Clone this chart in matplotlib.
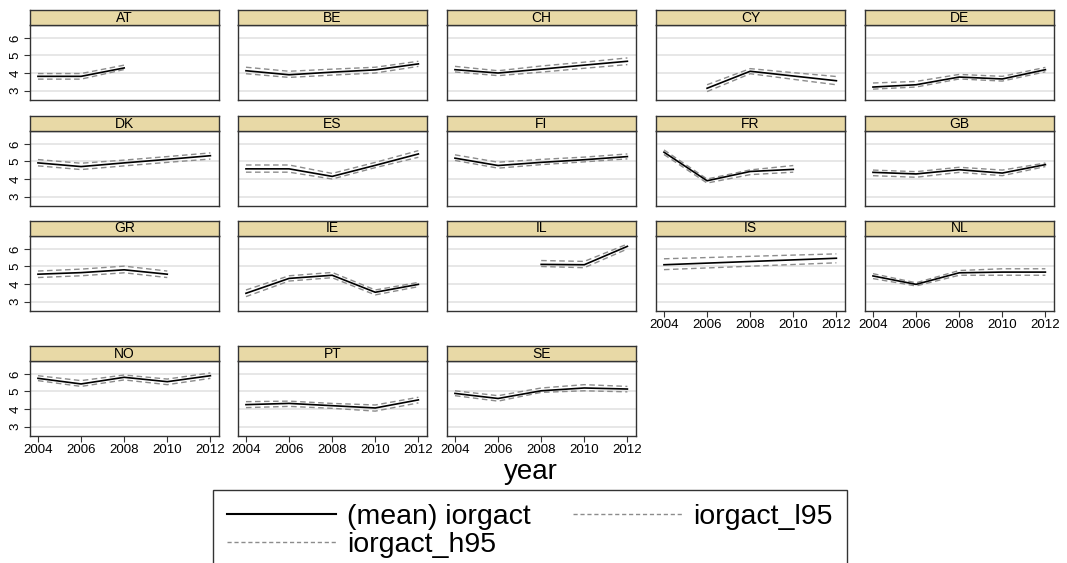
import numpy as np
import matplotlib
matplotlib.use("Agg")
import matplotlib.pyplot as plt
from matplotlib.lines import Line2D

plt.rcParams['font.family'] = ['Liberation Sans', 'DejaVu Sans']

countries = ["AT", "BE", "CH", "CY", "DE",
             "DK", "ES", "FI", "FR", "GB",
             "GR", "IE", "IL", "IS", "NL",
             "NO", "PT", "SE"]

all_years = [2004, 2006, 2008, 2010, 2012]

years = {
    "AT": [2004, 2006, 2008],
    "CY": [2006, 2008, 2010, 2012],
    "FR": [2004, 2006, 2008, 2010],
    "GR": [2004, 2006, 2008, 2010],
    "IL": [2008, 2010, 2012],
    "IS": [2004, 2012],
}

mean = {
    "AT": [3.81, 3.81, 4.29],
    "BE": [4.13, 3.90, 4.05, 4.18, 4.52],
    "CH": [4.19, 4.00, 4.22, 4.45, 4.67],
    "CY": [3.13, 4.10, 3.83, 3.56],
    "DE": [3.20, 3.33, 3.77, 3.66, 4.19],
    "DK": [4.92, 4.71, 4.92, 5.12, 5.33],
    "ES": [4.58, 4.58, 4.15, 4.78, 5.43],
    "FI": [5.19, 4.77, 4.95, 5.10, 5.28],
    "FR": [5.53, 3.90, 4.43, 4.55],
    "GB": [4.38, 4.29, 4.53, 4.34, 4.82],
    "GR": [4.56, 4.65, 4.81, 4.56],
    "IE": [3.47, 4.32, 4.50, 3.53, 3.98],
    "IL": [5.12, 5.10, 6.15],
    "IS": [5.10, 5.47],
    "NL": [4.46, 3.98, 4.64, 4.68, 4.68],
    "NO": [5.75, 5.43, 5.81, 5.56, 5.90],
    "PT": [4.25, 4.32, 4.19, 4.06, 4.52],
    "SE": [4.89, 4.60, 5.04, 5.20, 5.14],
}

l95 = {
    "AT": [3.65, 3.65, 4.20],
    "BE": [3.96, 3.75, 3.88, 4.00, 4.38],
    "CH": [4.06, 3.85, 4.05, 4.27, 4.48],
    "CY": [2.94, 3.96, 3.64, 3.33],
    "DE": [3.08, 3.20, 3.66, 3.54, 4.07],
    "DK": [4.75, 4.54, 4.75, 4.95, 5.14],
    "ES": [4.39, 4.39, 4.00, 4.65, 5.24],
    "FI": [5.06, 4.62, 4.82, 4.98, 5.15],
    "FR": [5.40, 3.77, 4.25, 4.39],
    "GB": [4.19, 4.10, 4.38, 4.19, 4.71],
    "GR": [4.37, 4.47, 4.64, 4.37],
    "IE": [3.28, 4.17, 4.36, 3.38, 3.85],
    "IL": [5.00, 4.93, 6.00],
    "IS": [4.82, 5.21],
    "NL": [4.31, 3.89, 4.50, 4.50, 4.50],
    "NO": [5.62, 5.29, 5.66, 5.39, 5.75],
    "PT": [4.08, 4.15, 4.04, 3.88, 4.35],
    "SE": [4.76, 4.45, 4.95, 5.04, 4.98],
}

h95 = {
    "AT": [3.97, 3.97, 4.45],
    "BE": [4.33, 4.10, 4.22, 4.33, 4.67],
    "CH": [4.38, 4.13, 4.40, 4.62, 4.86],
    "CY": [3.33, 4.25, 4.02, 3.80],
    "DE": [3.43, 3.52, 3.92, 3.81, 4.32],
    "DK": [5.11, 4.90, 5.08, 5.28, 5.49],
    "ES": [4.80, 4.80, 4.32, 4.95, 5.62],
    "FI": [5.38, 4.96, 5.12, 5.25, 5.43],
    "FR": [5.66, 4.00, 4.52, 4.77],
    "GB": [4.51, 4.42, 4.67, 4.51, 4.91],
    "GR": [4.74, 4.85, 5.02, 4.74],
    "IE": [3.66, 4.47, 4.66, 3.66, 4.09],
    "IL": [5.34, 5.29, 6.28],
    "IS": [5.44, 5.72],
    "NL": [4.59, 4.07, 4.77, 4.87, 4.87],
    "NO": [5.90, 5.62, 5.94, 5.71, 6.06],
    "PT": [4.42, 4.45, 4.32, 4.23, 4.67],
    "SE": [5.04, 4.76, 5.20, 5.39, 5.29],
}

W, H = 1067, 563
fig = plt.figure(figsize=(W / 100, H / 100), dpi=100)

col_left = [30, 238, 447, 656, 865]
row_top = [10, 116, 221, 346]
pw, strip_h, ph = 189, 15, 75
strip_col = "#e8d9a6"
ci_col = "#8c8c8c"

def px(x, y, w, h):
    return [x / W, 1 - (y + h) / H, w / W, h / H]

for i, c in enumerate(countries):
    r, k = divmod(i, 5)
    x0, y0 = col_left[k], row_top[r]
    ax = fig.add_axes(px(x0, y0 + strip_h, pw, ph))
    st = fig.add_axes(px(x0, y0, pw, strip_h))
    st.set_facecolor(strip_col)
    st.set_xticks([]); st.set_yticks([])
    for s in st.spines.values():
        s.set_linewidth(1.0)
        s.set_color("#333333")
    st.text(0.5, 0.5, c, ha="center", va="center", fontsize=10, transform=st.transAxes)

    yr = years.get(c, all_years)
    ax.plot(yr, l95[c], color=ci_col, lw=1.0, dashes=(4, 2.5))
    ax.plot(yr, h95[c], color=ci_col, lw=1.0, dashes=(4, 2.5))
    ax.plot(yr, mean[c], color="black", lw=1.2)

    ax.set_xlim(2003.63, 2012.4)
    ax.set_ylim(2.46, 6.74)
    ax.set_yticks([3, 4, 5, 6])
    ax.set_xticks(all_years)
    ax.grid(axis="y", color="#e3e3e3", lw=1.2)
    ax.set_axisbelow(True)
    for s in ax.spines.values():
        s.set_linewidth(1.0)
        s.set_color("#333333")
    ax.tick_params(direction="out", length=4, width=0.8, color="#333333", labelsize=9.5)

    if k == 0:
        ax.tick_params(axis="y", pad=2)
        for lab in ax.get_yticklabels():
            lab.set_rotation(90)
            lab.set_va("center")
    else:
        ax.tick_params(axis="y", left=False, labelleft=False)

    below = i + 5
    if below < len(countries):
        ax.tick_params(axis="x", bottom=False, labelbottom=False)
    else:
        ax.tick_params(axis="x", pad=2)

fig.text(531 / W, 1 - 472 / H, "year", ha="center", va="center", fontsize=20)

handles = [
    Line2D([], [], color="black", lw=1.5),
    Line2D([], [], color=ci_col, lw=1.0, dashes=(3, 2)),
    Line2D([], [], color=ci_col, lw=1.0, dashes=(3, 2)),
]
labels = ["(mean) iorgact", "iorgact_h95", "iorgact_l95"]
leg = fig.legend(handles, labels, loc="upper center", bbox_to_anchor=(530 / W, 1 - 490 / H),
                 ncol=2, fontsize=20.5, frameon=True, fancybox=False, edgecolor="black",
                 handlelength=3.8, handletextpad=0.4, columnspacing=1.5,
                 labelspacing=0.05, borderpad=0.5, borderaxespad=0)
leg.get_frame().set_linewidth(1.0)

fig.savefig("out.png", dpi=100)
